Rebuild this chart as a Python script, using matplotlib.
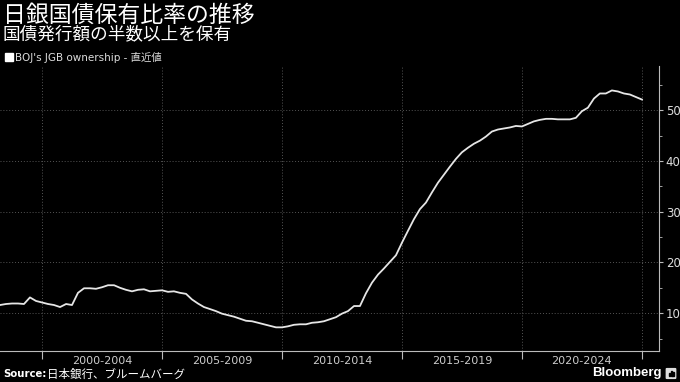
import matplotlib
matplotlib.use("Agg")
from matplotlib import pyplot as plt
from matplotlib.patches import Rectangle, FancyBboxPatch
import pandas as pd

# BOJ share of JGB holdings (%), quarterly from 1998 Q2
start_date = "1998-04-01"
boj_share = [
    11.6, 11.8, 11.9, 11.9, 11.8, 13.1, 12.4, 12.1, 11.8, 11.6,
    11.2, 11.8, 11.6, 14.0, 14.9, 14.9, 14.8, 15.1, 15.5, 15.5,
    15.0, 14.6, 14.3, 14.6, 14.7, 14.3, 14.4, 14.5, 14.2, 14.3,
    14.0, 13.8, 12.7, 11.9, 11.2, 10.8, 10.4, 9.9, 9.6, 9.3,
    8.9, 8.5, 8.4, 8.1, 7.8, 7.5, 7.2, 7.2, 7.4, 7.7,
    7.8, 7.8, 8.1, 8.2, 8.4, 8.8, 9.2, 9.9, 10.4, 11.4,
    11.4, 13.9, 16.0, 17.6, 18.8, 20.1, 21.4, 23.9, 26.2, 28.5,
    30.5, 31.8, 33.8, 35.7, 37.3, 38.9, 40.4, 41.7, 42.6, 43.4,
    44.0, 44.8, 45.8, 46.2, 46.4, 46.6, 46.9, 46.8, 47.3, 47.8,
    48.1, 48.3, 48.3, 48.2, 48.2, 48.2, 48.5, 49.8, 50.5, 52.3,
    53.3, 53.3, 53.9, 53.7, 53.3, 53.1, 52.6, 52.1,
]
period_starts = [2000, 2005, 2010, 2015, 2020, 2025]
period_labels = ["2000-2004", "2005-2009", "2010-2014", "2015-2019", "2020-2024"]
y_ticks = [10, 20, 30, 40, 50]

title = "日銀国債保有比率の推移"
subtitle = "国債発行額の半数以上を保有"
legend_label = "BOJ's JGB ownership - 直近値"
source_label = "日本銀行、ブルームバーグ"

dates = pd.date_range(start_date, periods=len(boj_share), freq="QS")

fig = plt.figure(figsize=(6.8, 3.82), dpi=100, facecolor="black")
ax = fig.add_axes([0.0, 0.082, 0.969, 0.745], facecolor="black")

ax.plot(dates, boj_share, color="#e6e6e6", linewidth=1.3)

ax.set_xlim(pd.Timestamp("1998-04-01"), pd.Timestamp("2025-09-16"))
ax.set_ylim(2.6, 58.7)

# spines
for side in ["left", "top"]:
    ax.spines[side].set_visible(False)
ax.spines["right"].set_color("#bbbbbb")
ax.spines["bottom"].set_color("#bbbbbb")
ax.spines["right"].set_linewidth(0.8)
ax.spines["bottom"].set_linewidth(0.8)

# y axis on the right
ax.yaxis.tick_right()
ax.set_yticks(y_ticks)
ax.set_yticks([5, 15, 25, 35, 45, 55], minor=True)
ax.tick_params(axis="y", which="major", colors="#bbbbbb", labelcolor="#dddddd",
               length=3, width=0.8, labelsize=8.5, pad=2)
ax.tick_params(axis="y", which="minor", colors="#bbbbbb", length=2.5, width=0.6)

# x axis: gridline ticks at period boundaries, labels centered in periods
major_dates = [pd.Timestamp(f"{y}-01-01") for y in period_starts]
label_dates = [pd.Timestamp(f"{y}-07-01") + pd.DateOffset(years=2) for y in period_starts[:-1]]
ax.set_xticks(major_dates)
ax.set_xticklabels([])
ax.set_xticks(label_dates, minor=True)
ax.set_xticklabels(period_labels, minor=True)
ax.tick_params(axis="x", which="major", colors="#bbbbbb", length=6, width=0.8)
ax.tick_params(axis="x", which="minor", length=0, labelcolor="#cccccc",
               labelsize=8, pad=4)

ax.grid(True, which="major", color="#555555", linestyle=(0, (1, 2)), linewidth=0.7)

# header text
fig.text(0.004, 1 - 15 / 382, title, color="white", fontsize=16.5,
         family=["Noto Sans CJK JP"], va="center", ha="left")
fig.text(0.004, 1 - 34 / 382, subtitle, color="white", fontsize=12.7,
         family=["Noto Sans CJK JP"], va="center", ha="left")
fig.patches.append(Rectangle((5 / 680, 1 - 61 / 382), 8 / 680, 8 / 382,
                             transform=fig.transFigure, color="white"))
fig.text(15 / 680, 1 - 57 / 382, legend_label, color="#dddddd", fontsize=7.5,
         family=["DejaVu Sans", "Noto Sans CJK JP"], va="center", ha="left")

# footer
fig.text(3 / 680, 1 - 374 / 382, "Source:", color="white", fontsize=7.3,
         fontweight="bold", family=["DejaVu Sans"], va="center", ha="left")
fig.text(47 / 680, 1 - 374 / 382, source_label, color="white", fontsize=8.3,
         family=["Noto Sans CJK JP"], va="center", ha="left")
fig.text(662 / 680, 1 - 373 / 382, "Bloomberg", color="white", fontsize=9.5,
         fontweight="bold", family=["Liberation Sans"], va="center", ha="right")
fig.patches.append(FancyBboxPatch((667 / 680, 1 - 378 / 382), 8 / 680, 9 / 382,
                                  boxstyle="round,pad=0.001", transform=fig.transFigure,
                                  color="#dddddd"))
for i, h in enumerate([3, 5, 4]):
    fig.patches.append(Rectangle(((668.8 + i * 1.8) / 680, 1 - 376 / 382), 1.1 / 680, h / 382,
                                 transform=fig.transFigure, color="black"))

fig.savefig("out.png", dpi=100, facecolor="black")
